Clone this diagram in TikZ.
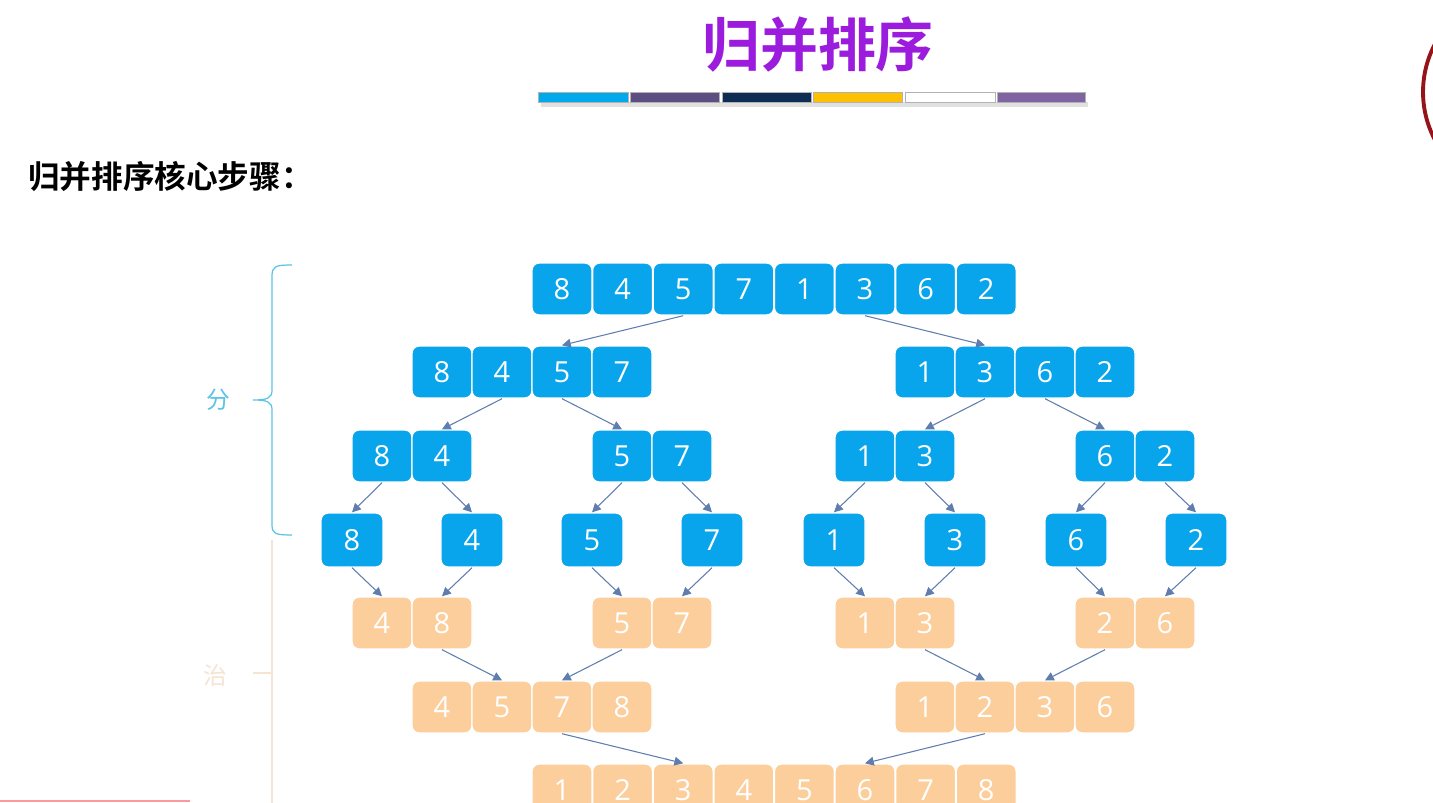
\documentclass[tikz,border=0pt]{standalone}
\usepackage{xcolor}
\usepackage{fontspec}
\setmainfont{Open Sans}
\newfontfamily\cjk{Noto Sans CJK SC}[BoldFont={Noto Sans CJK SC Bold}]
\usepackage{tikz}
\usetikzlibrary{arrows.meta}
\usetikzlibrary{positioning}

\definecolor{cellblue}{RGB}{8,165,236}
\definecolor{cellorange}{RGB}{252,206,156}
\definecolor{flowgray}{RGB}{95,125,175}
\definecolor{titlepurple}{RGB}{156,28,222}
\definecolor{splitcyan}{RGB}{90,195,232}
\definecolor{mergefaint}{RGB}{246,228,210}
\definecolor{logored}{RGB}{150,20,25}
\definecolor{barcyan}{RGB}{0,169,236}
\definecolor{barplum}{RGB}{92,78,128}
\definecolor{barnavy}{RGB}{14,45,85}
\definecolor{bargold}{RGB}{255,192,0}
\definecolor{barlilac}{RGB}{128,100,162}

\tikzset{
  cell/.style={draw=white, line width=0.8pt, rounded corners=4pt,
    minimum width=1.2cm, minimum height=1.04cm, inner sep=0pt,
    text=white, font=\fontsize{16.5}{16.5}\selectfont},
  bcell/.style={cell, fill=cellblue},
  ocell/.style={cell, fill=cellorange},
  scell/.style={bcell, minimum width=1.24cm, minimum height=1.08cm},
  flow/.style={draw=flowgray, line width=0.6pt, -{Triangle[length=5pt,width=5pt]}},
}

\begin{document}
\begin{tikzpicture}[x=0.02cm,y=-0.02cm]
\useasboundingbox (0,0) rectangle (1433,803);
\fill[white] (0,0) rectangle (1433,803);

% title and colour bar
\node (title) [text=titlepurple, font=\cjk\bfseries\fontsize{33}{33}\selectfont] at (818,45) {归并排序};
\fill[black!12] (541,102) rectangle (1088,107);
\foreach \xa/\xb/\c in {538/628/barcyan, 630/719/barplum, 722/811/barnavy,
    813/902/bargold, 905/995/white, 997/1085/barlilac}
  \filldraw[fill=\c, draw=black!30, line width=0.3pt] (\xa,92) rectangle (\xb,102);
\node (steps) [anchor=west, font=\cjk\bfseries\fontsize{18}{18}\selectfont] at (22,177) {归并排序核心步骤：};

% logo fragment
\begin{scope}
\clip (0,0) rectangle (1433,803);
\draw[logored, line width=2.2pt] (1525,92) circle (102);
\end{scope}
\draw[red!40, line width=1pt] (0,801) -- (190,801);

% split side
\node (split) [text=splitcyan, font=\cjk\fontsize{13.5}{13.5}\selectfont] at (218,400) {分};
\draw[splitcyan, line width=0.7pt] (292,265) .. controls (276,265) and (272,266) .. (272,276)
  -- (272,390) .. controls (272,398) and (268,400) .. (253,400)
  .. controls (268,400) and (272,402) .. (272,410)
  -- (272,525) .. controls (272,534) and (276,535) .. (292,535);
% merge side
\node (merge) [text=mergefaint, font=\cjk\fontsize{13.5}{13.5}\selectfont] at (215,675) {治};
\draw[mergefaint, line width=0.7pt] (272,540) -- (272,803);
\draw[mergefaint, line width=0.7pt] (253,673) -- (272,673);

% rows of cells
\foreach \v [count=\i] in {8,4,5,7,1,3,6,2}
  \node[bcell] (r1c\i) at ({562+60.6*(\i-1)},289) {\v};
\foreach \x/\v [count=\i] in {442/8,502/4,562/5,622/7,925/1,985/3,1045/6,1105/2}
  \node[bcell] (r2c\i) at (\x,372) {\v};
\foreach \x/\v [count=\i] in {382/8,442/4,622/5,682/7,865/1,925/3,1105/6,1165/2}
  \node[bcell] (r3c\i) at (\x,456) {\v};
\foreach \x/\v [count=\i] in {352/8,472/4,592/5,712/7,834/1,955/3,1076/6,1196/2}
  \node[scell] (r4c\i) at (\x,540) {\v};
\foreach \x/\v [count=\i] in {382/4,442/8,622/5,682/7,865/1,925/3,1105/2,1165/6}
  \node[ocell] (r5c\i) at (\x,623) {\v};
\foreach \x/\v [count=\i] in {442/4,502/5,562/7,622/8,925/1,985/2,1045/3,1105/6}
  \node[ocell] (r6c\i) at (\x,707) {\v};
\foreach \v [count=\i] in {1,2,3,4,5,6,7,8}
  \node[ocell] (r7c\i) at ({562+60.6*(\i-1)},790) {\v};

% arrows between rows
\foreach \i in {3,6} \draw[flow] (r1c\i.south) -- (r2c\i.north);
\foreach \i in {2,3,6,7} \draw[flow] (r2c\i.south) -- (r3c\i.north);
\foreach \i in {1,...,8} \draw[flow] (r3c\i.south) -- (r4c\i.north);
\foreach \i in {1,...,8} \draw[flow] (r4c\i.south) -- (r5c\i.north);
\foreach \i in {2,3,6,7} \draw[flow] (r5c\i.south) -- (r6c\i.north);
\foreach \i in {3,6} \draw[flow] (r6c\i.south) -- (r7c\i.north);
\end{tikzpicture}
\end{document}
